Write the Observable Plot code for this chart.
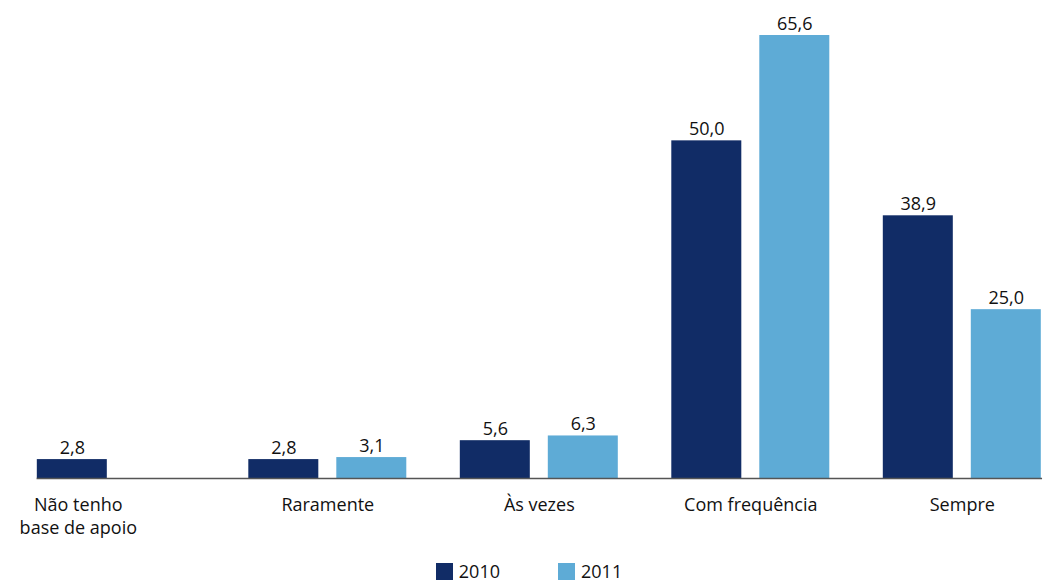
<!DOCTYPE html>
<html>
<head>
<meta charset="utf-8">
<script src="https://cdn.jsdelivr.net/npm/d3@7"></script>
<script src="https://cdn.jsdelivr.net/npm/@observablehq/plot@0.6"></script>
<style>
  html, body { margin: 0; padding: 0; background: #fff; overflow: hidden; }
  #chart { width: 1054px; }
  .legend { display: flex; justify-content: center; align-items: center; font-family: "Open Sans", sans-serif; font-size: 18px; line-height: 18px; color: #111; height: 18px; margin-top: 12px; padding-left: 4px; }
  .legend .item { display: flex; align-items: center; margin: 0 29px; }
  .legend .sw { width: 17px; height: 17px; margin-right: 6px; }
</style>
</head>
<body>
<div id="chart"></div>
<script>
const categories = ["Não tenho\nbase de apoio", "Raramente", "Às vezes", "Com frequência", "Sempre"];
const years = ["2010", "2011"];
const values2010 = [2.8, 2.8, 5.6, 50.0, 38.9];
const values2011 = [null, 3.1, 6.3, 65.6, 25.0];
const colors = ["#112c66", "#5eabd6"];

const data = [];
categories.forEach((c, i) => {
  if (values2010[i] != null) data.push({cat: c, year: years[0], value: values2010[i]});
  if (values2011[i] != null) data.push({cat: c, year: years[1], value: values2011[i]});
});
const fmt = v => d3.format(".1f")(v).replace(".", ",");

const chart = Plot.plot({
  width: 1054,
  height: 550,
  marginLeft: 10,
  marginRight: 0,
  marginTop: 35,
  marginBottom: 72,
  style: {fontFamily: "'Open Sans', sans-serif", fontSize: "18px", background: "white", color: "#111"},
  fx: {domain: categories, paddingInner: 0.253, paddingOuter: 0.0946, align: 0.67, round: false, axis: null, label: null},
  x: {domain: years, paddingInner: 0.2045, paddingOuter: 0, round: false, axis: null},
  y: {domain: [0, 65.6], axis: null},
  color: {domain: years, range: colors},
  marks: [
    Plot.barY(data, {fx: "cat", x: "year", y: "value", fill: "year"}),
    Plot.text(data, {fx: "cat", x: "year", y: "value", text: d => fmt(d.value), lineAnchor: "bottom", dy: -6, fontSize: 18, fill: "#111"}),
    Plot.frame({anchor: "bottom", facet: "super", stroke: "#555", strokeWidth: 1.5}),
    Plot.text([categories[0]], {fx: d => d, text: d => d, frameAnchor: "bottom", lineAnchor: "top", dy: 17, dx: -38, fontSize: 18, lineHeight: 1.25, fill: "#111"}),
    Plot.text(categories.slice(1), {fx: d => d, text: d => d, frameAnchor: "bottom", lineAnchor: "top", dy: 17, fontSize: 18, lineHeight: 1.25, fill: "#111"})
  ]
});
document.getElementById("chart").appendChild(chart);

const legend = document.createElement("div");
legend.className = "legend";
years.forEach((y, i) => {
  const item = document.createElement("div");
  item.className = "item";
  const sw = document.createElement("span");
  sw.className = "sw";
  sw.style.background = colors[i];
  const t = document.createElement("span");
  t.textContent = y;
  item.appendChild(sw);
  item.appendChild(t);
  legend.appendChild(item);
});
document.getElementById("chart").appendChild(legend);
</script>
</body>
</html>
